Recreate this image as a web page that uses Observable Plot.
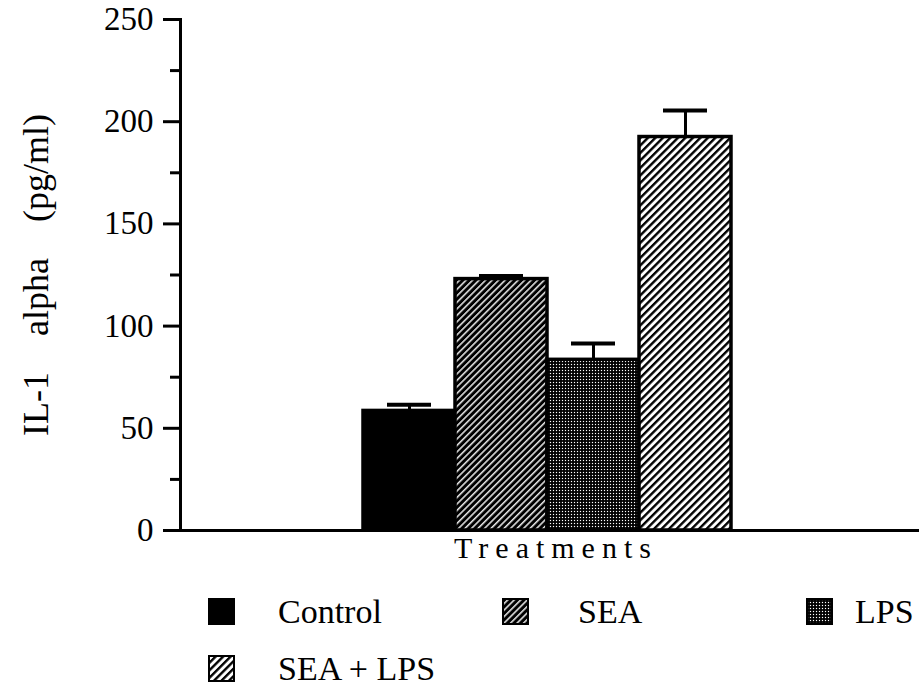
<!DOCTYPE html>
<html>
<head>
<meta charset="utf-8">
<script src="https://cdn.jsdelivr.net/npm/d3@7"></script>
<script src="https://cdn.jsdelivr.net/npm/@observablehq/plot@0.6"></script>
<style>
  html, body { margin: 0; padding: 0; background: #fff; }
  #wrap { width: 919px; height: 687px; position: relative; font-family: "Liberation Serif", "Times New Roman", serif; color: #000; }
  #legend { position: relative; width: 919px; height: 112px; font-size: 34px; }
  .sw { position: absolute; }
  .lt { position: absolute; line-height: 34px; white-space: nowrap; }
</style>
</head>
<body>
<svg width="0" height="0" style="position:absolute">
  <defs>
    <pattern id="p-sea" patternUnits="userSpaceOnUse" width="4.6" height="4.6" patternTransform="rotate(45)">
      <rect width="4.6" height="4.6" fill="#000"></rect>
      <line x1="0.8" y1="0" x2="0.8" y2="4.6" stroke="#fff" stroke-width="1.4"></line>
    </pattern>
    <pattern id="p-sealps" patternUnits="userSpaceOnUse" width="5.3" height="5.3" patternTransform="rotate(45)">
      <rect width="5.3" height="5.3" fill="#fff"></rect>
      <line x1="1.2" y1="0" x2="1.2" y2="5.3" stroke="#000" stroke-width="2.4"></line>
    </pattern>
    <pattern id="p-lps" patternUnits="userSpaceOnUse" width="3" height="3">
      <rect width="3" height="3" fill="#000"></rect>
      <rect x="0.9" y="0.9" width="1.2" height="1.2" fill="#fff"></rect>
    </pattern>
  </defs>
</svg>
<div id="wrap">
  <div id="chart"></div>
  <div id="legend"></div>
</div>
<script>
// ---- data ----
const categories = ["Control", "SEA", "LPS", "SEA + LPS"];
const means = [58.5, 123, 83.5, 192.5];
const errors = [3, 1.5, 8, 13];
const yTicks = [0, 50, 100, 150, 200, 250];
const yMinorTicks = [25, 75, 125, 175, 225];
const yLabel = "IL-1\u00a0\u00a0\u00a0\u00a0alpha\u00a0\u00a0\u00a0\u00a0(pg/ml)";
const xLabel = "Treatments";

// ---- styles / layout ----
const fills = ["#000", "url(#p-sea)", "url(#p-lps)", "url(#p-sealps)"];
const legendLayout = [
  {sx: 208, tx: 278, y: 20},
  {sx: 502, tx: 578, y: 20},
  {sx: 806, tx: 855, y: 20},
  {sx: 208, tx: 278, y: 77}
];

const data = categories.map((c, i) => ({cat: c, mean: means[i], err: errors[i]}));

const chart = Plot.plot({
  width: 919,
  height: 575,
  marginLeft: 180,
  marginRight: 0,
  marginTop: 19,
  marginBottom: 45,
  style: {fontFamily: "'Liberation Serif', 'Times New Roman', serif", background: "#fff", color: "#000"},
  x: {domain: categories, paddingInner: 0, paddingOuter: 2, axis: null},
  y: {domain: [0, 250], axis: null},
  marks: [
    ...categories.map((c, i) =>
      Plot.barY(data.filter(d => d.cat === c), {x: "cat", y: "mean", fill: fills[i], stroke: "#000", strokeWidth: 3.5, dx: -3})
    ),
    Plot.ruleX(data, {x: "cat", y1: "mean", y2: d => d.mean + d.err, stroke: "#000", strokeWidth: 3, dx: -3}),
    Plot.tickY(data, {x: "cat", y: d => d.mean + d.err, stroke: "#000", strokeWidth: 4, insetLeft: 24, insetRight: 24, dx: -3}),
    Plot.axisY({ticks: yTicks, tickSize: 17, tickPadding: 10, fontSize: 33, strokeWidth: 3, label: null, tickFormat: d => String(d)}),
    Plot.axisY({ticks: yMinorTicks, tickSize: 10, strokeWidth: 3, label: null, tickFormat: () => ""}),
    Plot.frame({anchor: "left", strokeWidth: 3}),
    Plot.ruleY([0], {strokeWidth: 3}),
    Plot.text([xLabel], {frameAnchor: "bottom", dy: 27, dx: 6, fontSize: 30, fill: "#000"}),
    Plot.text([yLabel], {frameAnchor: "left", textAnchor: "middle", rotate: -90, dx: -144, fontSize: 36, fill: "#000"})
  ]
});
document.getElementById("chart").appendChild(chart);

d3.select(chart).selectAll("text").filter(function() { return this.textContent === xLabel; })
  .style("letter-spacing", "7px");

// ---- legend ----
const legend = d3.select("#legend");
categories.forEach((c, i) => {
  const L = legendLayout[i];
  const sw = legend.append("svg").attr("class", "sw").attr("width", 27).attr("height", 27)
    .style("left", L.sx + "px").style("top", (L.y + 3) + "px");
  sw.append("rect").attr("x", 1).attr("y", 1).attr("width", 25).attr("height", 25)
    .attr("fill", fills[i]).attr("stroke", "#000").attr("stroke-width", 2);
  legend.append("div").attr("class", "lt").style("left", L.tx + "px").style("top", L.y + "px").text(c);
});
</script>
</body>
</html>
